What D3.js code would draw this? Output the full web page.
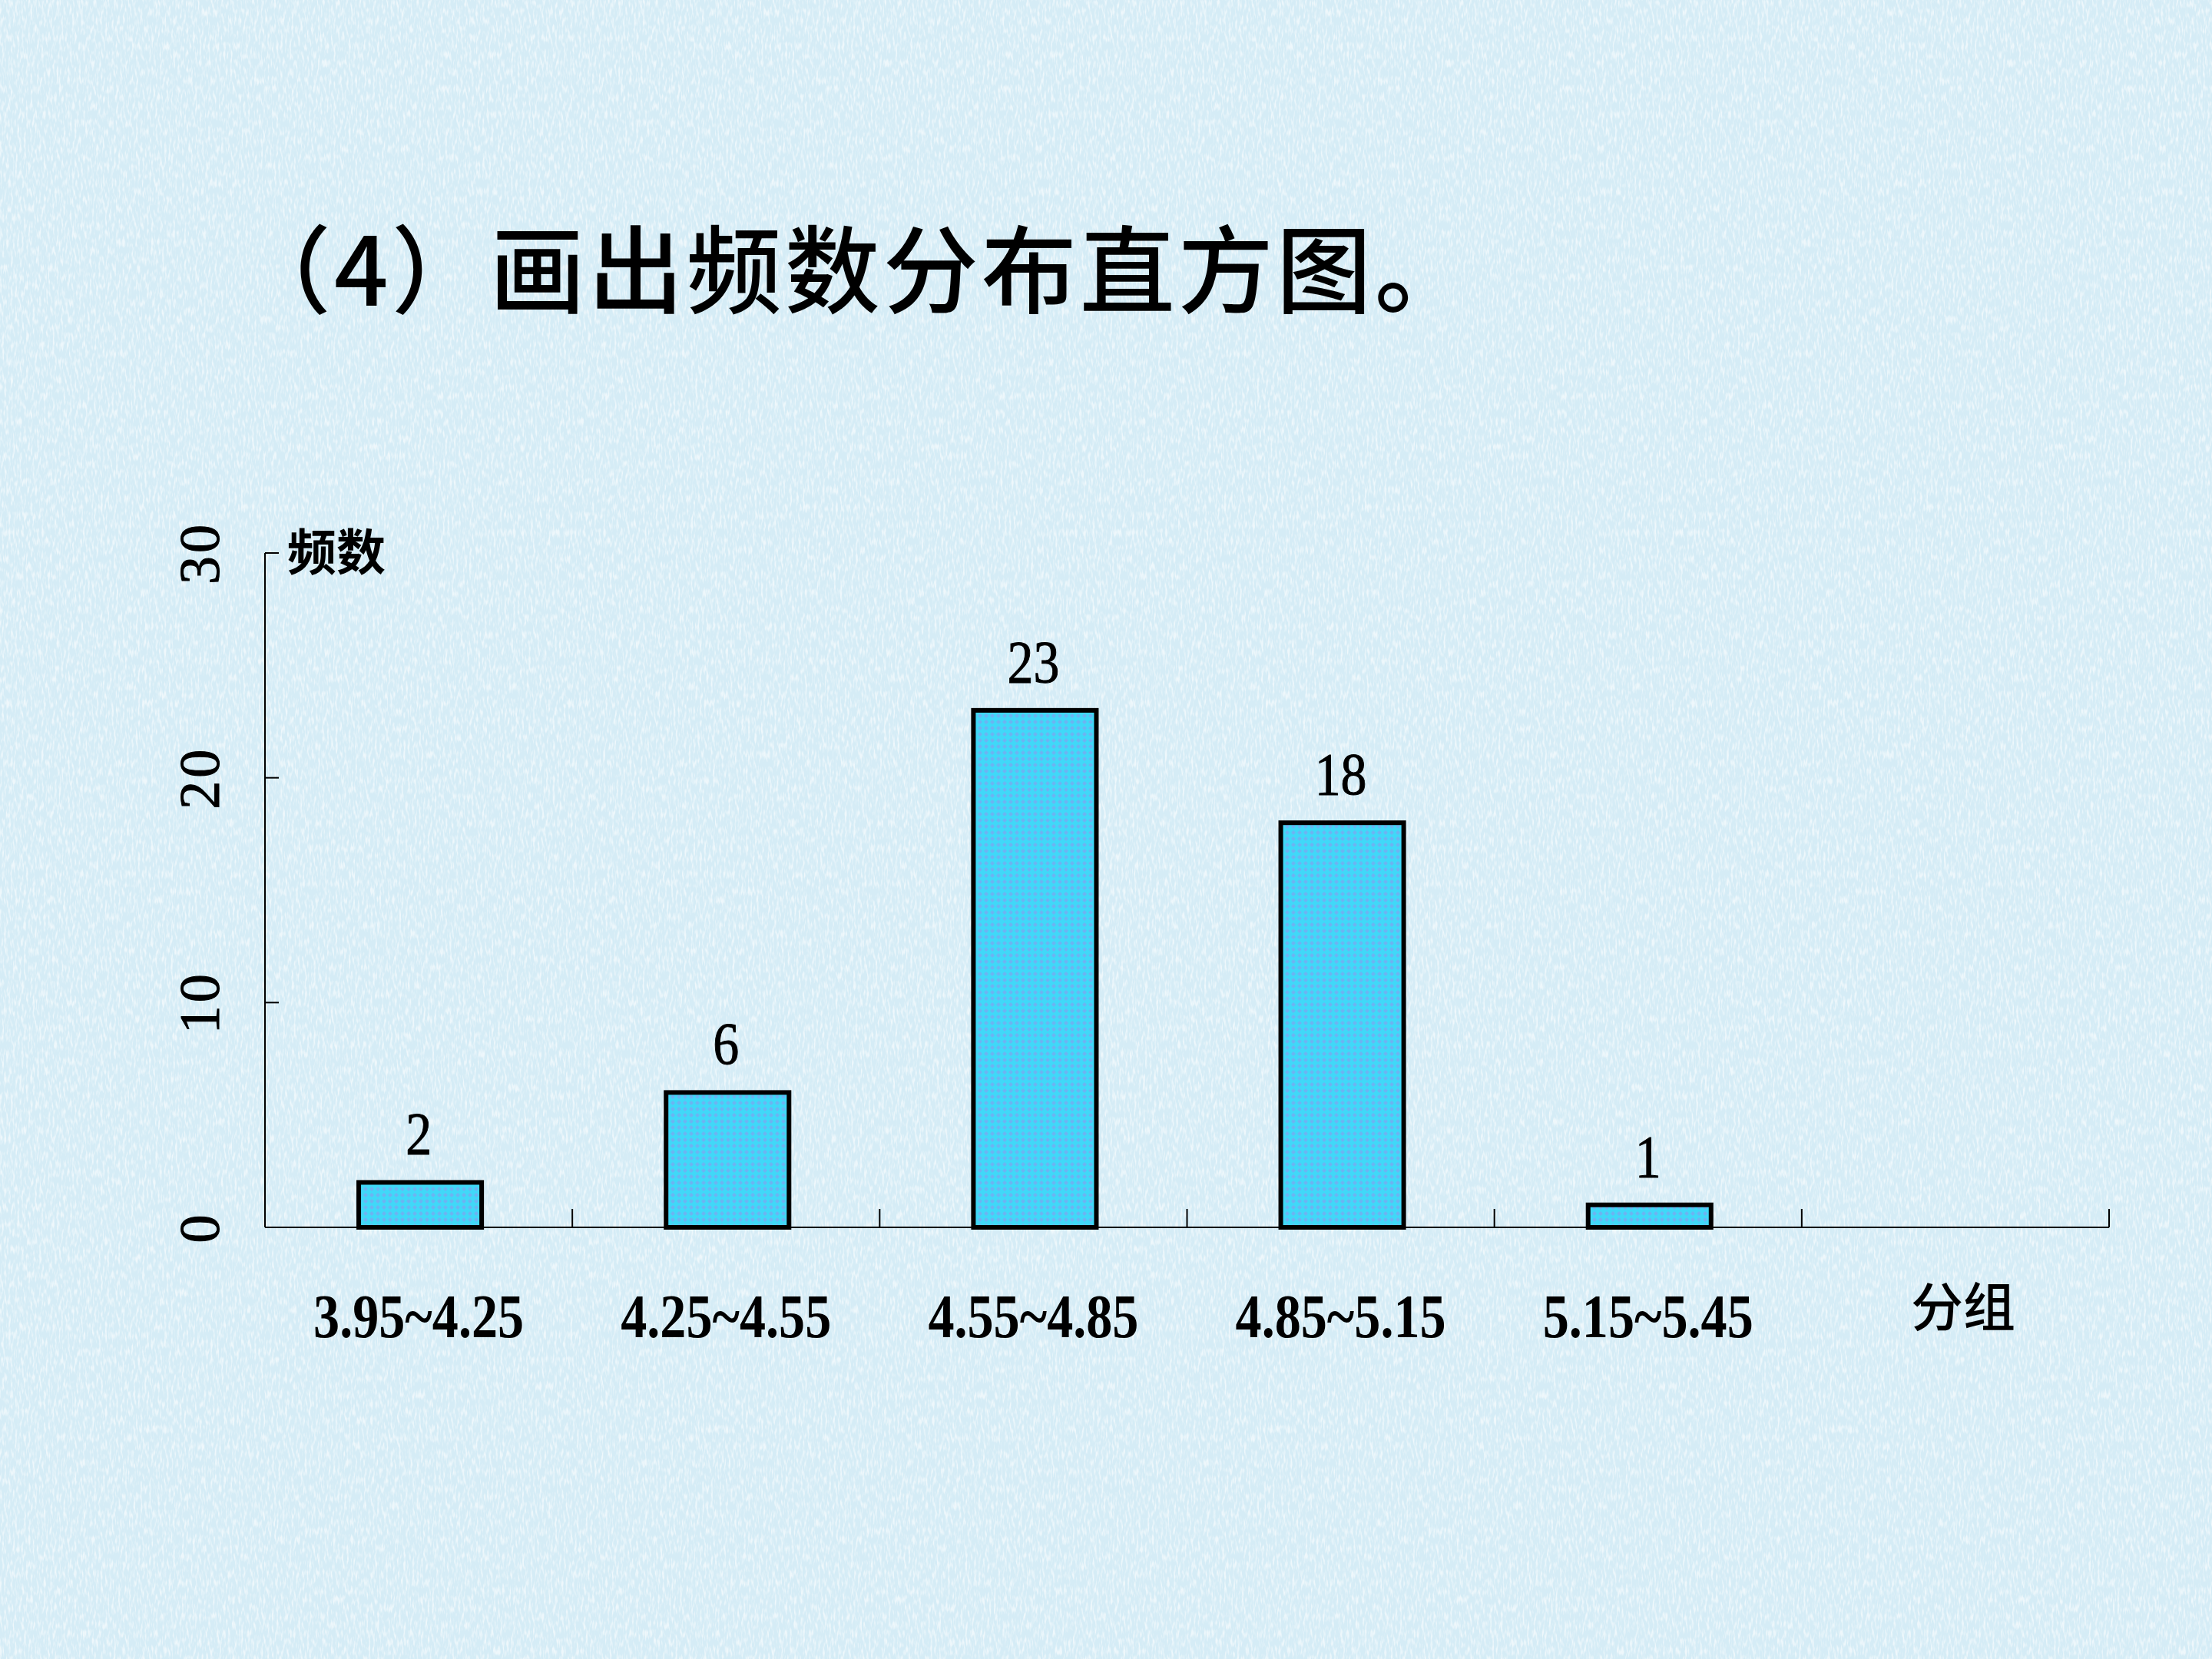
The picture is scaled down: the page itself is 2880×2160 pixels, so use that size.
<!DOCTYPE html>
<html>
<head>
<meta charset="utf-8">
<script src="https://cdn.jsdelivr.net/npm/d3@7"></script>
<style>
  html, body { margin: 0; padding: 0; background: #d5ecf6; }
  svg { display: block; }
</style>
</head>
<body>
<div id="root"></div>
<script>
const width = 2880;
const height = 2160;

// chart data
const groups = ['3.95~4.25', '4.25~4.55', '4.55~4.85', '4.85~5.15', '5.15~5.45'];
const counts = [2, 6, 23, 18, 1];
const yTicks = [0, 10, 20, 30];
const title = '（4）画出频数分布直方图。';
const yLabel = '频数';
const xLabel = '分组';

const margin = {left: 345, right: 134, top: 720, bottom: 562};

const svg = d3.select('#root')
    .append('svg')
    .attr('width', width)
    .attr('height', height);

const defs = svg.append('defs');

// paper-like texture for the slide background
const tex = defs.append('filter')
    .attr('id', 'paper')
    .attr('x', 0).attr('y', 0).attr('width', '100%').attr('height', '100%');
tex.append('feTurbulence')
    .attr('type', 'fractalNoise')
    .attr('baseFrequency', '0.35 0.09')
    .attr('numOctaves', 2)
    .attr('seed', 3);
tex.append('feColorMatrix')
    .attr('type', 'matrix')
    .attr('values', '0 0 0 0 1  0 0 0 0 1  0 0 0 0 1  0 0 0 3.2 -1.45');

// dotted cyan fill of the bars
const pat = defs.append('pattern')
    .attr('id', 'barFill')
    .attr('patternUnits', 'userSpaceOnUse')
    .attr('width', 8)
    .attr('height', 8);
pat.append('rect').attr('width', 8).attr('height', 8).attr('fill', '#40d8f8');
pat.append('path').attr('d', 'M4 1 L7 4 L4 7 L1 4 Z').attr('fill', '#6cb4f2');

svg.append('rect')
    .attr('width', width)
    .attr('height', height)
    .attr('fill', '#d5ecf6');
svg.append('rect')
    .attr('width', width)
    .attr('height', height)
    .attr('filter', 'url(#paper)')
    .attr('opacity', 0.6);

// title
svg.append('text')
    .attr('x', 307)
    .attr('y', 398)
    .attr('font-family', '"Noto Sans CJK SC"')
    .attr('font-weight', 500)
    .attr('font-size', 124)
    .attr('letter-spacing', 4)
    .attr('fill', '#000')
    .text(title);

const x = d3.scaleBand()
    .domain([...groups, xLabel])
    .range([margin.left, width - margin.right]);

const y = d3.scaleLinear()
    .domain([0, 30])
    .range([height - margin.bottom, margin.top]);

const base = y(0);

// axes
svg.append('line')
    .attr('x1', x.range()[0]).attr('x2', x.range()[1])
    .attr('y1', base).attr('y2', base)
    .attr('stroke', '#000').attr('stroke-width', 2);
svg.append('line')
    .attr('x1', margin.left).attr('x2', margin.left)
    .attr('y1', y(30)).attr('y2', base)
    .attr('stroke', '#000').attr('stroke-width', 2);

svg.selectAll('.xtick')
    .data(x.domain())
    .join('line')
    .attr('class', 'xtick')
    .attr('x1', d => x(d) + x.bandwidth())
    .attr('x2', d => x(d) + x.bandwidth())
    .attr('y1', base).attr('y2', base - 24)
    .attr('stroke', '#000').attr('stroke-width', 2);

svg.selectAll('.ytick')
    .data(yTicks.filter(d => d > 0))
    .join('line')
    .attr('class', 'ytick')
    .attr('x1', margin.left).attr('x2', margin.left + 18)
    .attr('y1', d => y(d)).attr('y2', d => y(d))
    .attr('stroke', '#000').attr('stroke-width', 2);

svg.selectAll('.ylabel')
    .data(yTicks)
    .join('text')
    .attr('class', 'ylabel')
    .attr('transform', d => `translate(285,${y(d)}) rotate(-90)`)
    .attr('text-anchor', 'middle')
    .attr('font-family', '"Liberation Serif"')
    .attr('font-size', 74)
    .attr('letter-spacing', 4)
    .attr('stroke', '#000')
    .attr('stroke-width', 1)
    .text(d => d);

// bars
const bw = x.bandwidth() * 0.4;
svg.selectAll('.bar')
    .data(groups)
    .join('rect')
    .attr('class', 'bar')
    .attr('x', d => x(d) + (x.bandwidth() - bw) / 2 + 2)
    .attr('y', (d, i) => y(counts[i]))
    .attr('width', bw)
    .attr('height', (d, i) => base - y(counts[i]))
    .attr('fill', 'url(#barFill)')
    .attr('stroke', '#000')
    .attr('stroke-width', 6);

svg.selectAll('.value')
    .data(groups)
    .join('text')
    .attr('class', 'value')
    .attr('transform', (d, i) => `translate(${x(d) + x.bandwidth() / 2},${y(counts[i]) - 37}) scale(0.87,1)`)
    .attr('text-anchor', 'middle')
    .attr('font-family', '"Liberation Serif"')
    .attr('font-size', 78)
    .attr('stroke', '#000')
    .attr('stroke-width', 1)
    .text((d, i) => counts[i]);

svg.selectAll('.cat')
    .data(groups)
    .join('text')
    .attr('class', 'cat')
    .attr('x', d => x(d) + x.bandwidth() / 2 - 137)
    .attr('y', 1741)
    .attr('textLength', 274)
    .attr('lengthAdjust', 'spacingAndGlyphs')
    .attr('font-family', '"Liberation Serif"')
    .attr('font-weight', 'bold')
    .attr('font-size', 80)
    .text(d => d);

svg.append('text')
    .attr('x', x(xLabel) + x.bandwidth() / 2 + 10)
    .attr('y', 1727)
    .attr('text-anchor', 'middle')
    .attr('font-family', '"Noto Sans CJK SC"')
    .attr('font-weight', 500)
    .attr('font-size', 68)
    .text(xLabel);

svg.append('text')
    .attr('x', 374)
    .attr('y', 742)
    .attr('font-family', '"Noto Sans CJK SC"')
    .attr('font-weight', 700)
    .attr('font-size', 64)
    .text(yLabel);
</script>
</body>
</html>
